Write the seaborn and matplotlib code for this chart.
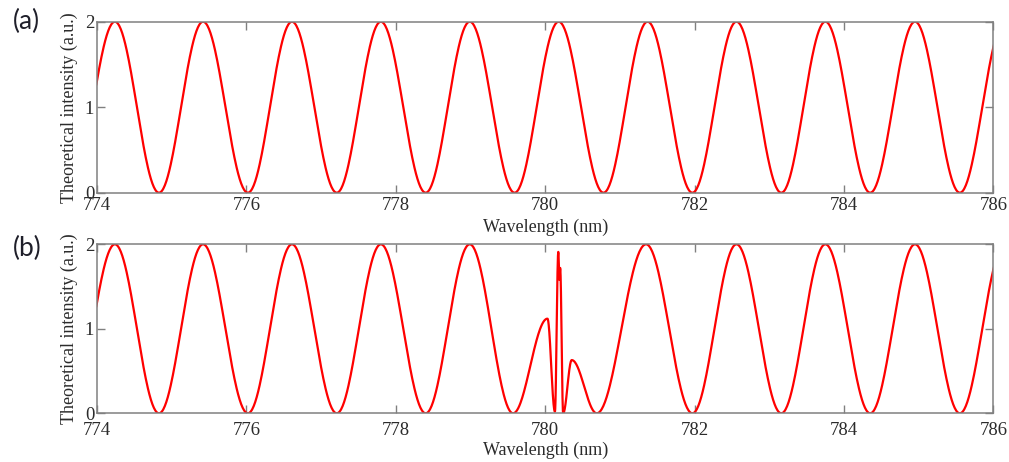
import numpy as np
import pandas as pd
import matplotlib
matplotlib.use("Agg")
import matplotlib.pyplot as plt
import seaborn as sns

# ---- data: extrema of the theoretical curves ----
# panel (a): wavelengths (nm) of successive extrema and their intensities (a.u.)
ext_a_nm = [773.64, 774.24, 774.83, 775.42, 776.02, 776.61, 777.21, 777.80,
            778.40, 778.99, 779.59, 780.18, 780.78, 781.37, 781.97, 782.56,
            783.16, 783.75, 784.35, 784.95, 785.55, 786.15]
ext_a_val = [0, 2, 0, 2, 0, 2, 0, 2, 0, 2, 0, 2, 0, 2, 0, 2, 0, 2, 0, 2, 0, 2]

# panel (b): same fringes, with the resonance feature near 780.2 nm
ext_b_nm = [773.64, 774.24, 774.83, 775.42, 776.02, 776.61, 777.21, 777.80,
            778.40, 778.99, 779.57, 780.03, 780.13, 780.175, 780.19, 780.20,
            780.24, 780.355, 780.69, 781.35, 781.97, 782.56, 783.16, 783.75,
            784.35, 784.95, 785.55, 786.15]
ext_b_val = [0, 2, 0, 2, 0, 2, 0, 2, 0, 2, 0, 1.12, 0.02, 1.91, 1.58, 1.72,
             0.0, 0.63, 0.0, 2, 0, 2, 0, 2, 0, 2, 0, 2]

x_ticks = [774, 776, 778, 780, 782, 784, 786]
y_ticks = [0, 1, 2]
panel_tags = ["(a)", "(b)"]
x_label = "Wavelength (nm)"
y_label = "Theoretical intensity (a.u.)"


def smooth_through(ext_x, ext_y, n=60):
    """Half-cosine segments between consecutive extrema."""
    xs, ys = [], []
    for i in range(len(ext_x) - 1):
        t = np.linspace(0, 1, n, endpoint=False)
        xs.append(ext_x[i] + (ext_x[i + 1] - ext_x[i]) * t)
        ys.append(ext_y[i] + (ext_y[i + 1] - ext_y[i]) * (1 - np.cos(np.pi * t)) / 2)
    xs.append([ext_x[-1]])
    ys.append([ext_y[-1]])
    return pd.DataFrame({"wl": np.concatenate(xs), "I": np.concatenate(ys)})


sns.set_style("ticks")
plt.rcParams["font.family"] = ["Liberation Serif", "DejaVu Serif"]

fig = plt.figure(figsize=(10.09, 4.62), dpi=100)
ax_a = fig.add_axes([0.0961, 0.5829, 0.8885, 0.3701])
ax_b = fig.add_axes([0.0961, 0.1054, 0.8885, 0.3658])

spine_col = "#808080"
text_col = "#2b2b2b"

for ax, ex, ey, tag, pad, lab_y in [
    (ax_a, ext_a_nm, ext_a_val, panel_tags[0], 3, -0.15),
    (ax_b, ext_b_nm, ext_b_val, panel_tags[1], 6, -0.165),
]:
    df = smooth_through(ex, ey)
    sns.lineplot(data=df, x="wl", y="I", ax=ax, color="#ff0000", linewidth=1.6,
                 estimator=None, sort=False)
    ax.set_xlim(774, 786)
    ax.set_ylim(0, 2)
    ax.set_xticks(x_ticks)
    ax.set_yticks(y_ticks)
    ax.tick_params(direction="in", length=6, width=1, color=spine_col,
                   top=True, right=True, labelsize=13.5, labelcolor=text_col)
    ax.tick_params(axis="x", pad=pad)
    ax.tick_params(axis="y", pad=2)
    for s in ax.spines.values():
        s.set_color(spine_col)
        s.set_linewidth(1.1)
    ax.set_xlabel(x_label, fontsize=13, color=text_col)
    ax.set_ylabel(y_label, fontsize=13, color=text_col)
    ax.xaxis.set_label_coords(0.5, lab_y)
    ax.yaxis.set_label_coords(-0.021, 0.5)

fig.text(0.013, 1 - 21 / 462, panel_tags[0], fontsize=19, color="#1f1f2a",
         family=["Lato", "DejaVu Sans"], ha="left", va="center")
fig.text(0.013, 1 - 248 / 462, panel_tags[1], fontsize=19, color="#1f1f2a",
         family=["Lato", "DejaVu Sans"], ha="left", va="center")

fig.savefig("out.png", dpi=100)
